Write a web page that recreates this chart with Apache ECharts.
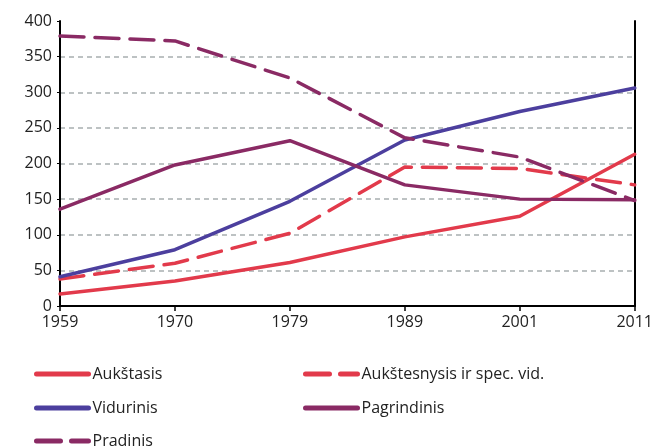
<!DOCTYPE html>
<html>
<head>
<meta charset="utf-8">
<script src="https://cdn.jsdelivr.net/npm/echarts@6/dist/echarts.min.js"></script>
<style>
  html, body { margin: 0; padding: 0; background: #fff; }
  #main { width: 656px; height: 446px; }
</style>
</head>
<body>
<div id="main"></div>
<script>
// metai ir reikšmės (nuskaityta nuo paveikslo)
var years = ['1959', '1970', '1979', '1989', '2001', '2011'];
var aukstasis = [17, 35, 61, 97, 126, 213];
var aukstesnysis = [38, 60, 102, 195, 193, 170];
var vidurinis = [41, 79, 147, 233, 273, 306];
var pagrindinis = [136, 198, 232, 170, 150, 149];
var pradinis = [379, 372, 320, 236, 209, 148];

var red = '#e23a4b';
var blue = '#4c3f9e';
var purple = '#8a2a64';
var dash = [24, 11];

var myChart = echarts.init(document.getElementById('main'));

function line(name, data, color, dashed) {
    return {
        name: name,
        type: 'line',
        data: data,
        symbol: 'none',
        lineStyle: { color: color, width: 3.5, type: dashed ? dash : 'solid', cap: 'round' },
        itemStyle: { color: color }
    };
}

// po vieną legendą kiekvienai eilutei, kad išdėstymas būtų kaip paveiksle
function leg(name, left, mid) {
    return {
        data: [name],
        left: left, top: mid - 13,
        itemWidth: 52, itemHeight: 6,
        itemStyle: { opacity: 0 },
        lineStyle: { width: 5, cap: 'round' },
        textStyle: { fontFamily: 'Open Sans', fontSize: 16, lineHeight: 18, color: '#222', padding: [0, 0, 0, -1] }
    };
}

var axisFont = { fontFamily: 'Open Sans', fontSize: 16, color: '#222' };

var option = {
    animation: false,
    grid: { left: 60, right: 21, top: 21, bottom: 140 },
    legend: [
        leg('Aukštasis', 29, 373),
        leg('Vidurinis', 29, 407),
        leg('Pradinis', 29, 440),
        leg('Aukštesnysis ir spec. vid.', 298, 373),
        leg('Pagrindinis', 298, 407)
    ],
    xAxis: [
        {
            type: 'category',
            data: years,
            boundaryGap: false,
            axisLine: { lineStyle: { color: '#000', width: 2 } },
            axisTick: { show: true, length: 5, lineStyle: { color: '#000', width: 1.5 } },
            axisLabel: Object.assign({ margin: 8 }, axisFont),
            splitLine: { show: false }
        },
        {
            type: 'category',
            data: years,
            position: 'top',
            z: 3,
            boundaryGap: false,
            axisLine: { lineStyle: { color: '#000', width: 2 } },
            axisTick: { show: false },
            axisLabel: { show: false },
            splitLine: { show: false }
        }
    ],
    yAxis: [
        {
            type: 'value',
            min: 0, max: 400, interval: 50,
            axisLine: { show: true, lineStyle: { color: '#000', width: 2 } },
            axisTick: { show: true, length: 3, lineStyle: { color: '#000' } },
            axisLabel: Object.assign({ margin: 8 }, axisFont),
            splitLine: { showMaxLine: false, showMinLine: false, lineStyle: { color: '#a8aeb0', width: 1.5, type: [5, 4] } }
        },
        {
            type: 'value',
            position: 'right',
            z: 3,
            min: 0, max: 400, interval: 50,
            axisLine: { show: true, lineStyle: { color: '#000', width: 2 } },
            axisTick: { show: false },
            axisLabel: { show: false },
            splitLine: { show: false }
        }
    ],
    series: [
        line('Aukštasis', aukstasis, red, false),
        line('Aukštesnysis ir spec. vid.', aukstesnysis, red, true),
        line('Vidurinis', vidurinis, blue, false),
        line('Pagrindinis', pagrindinis, purple, false),
        line('Pradinis', pradinis, purple, true)
    ]
};
myChart.setOption(option);
</script>
</body>
</html>
